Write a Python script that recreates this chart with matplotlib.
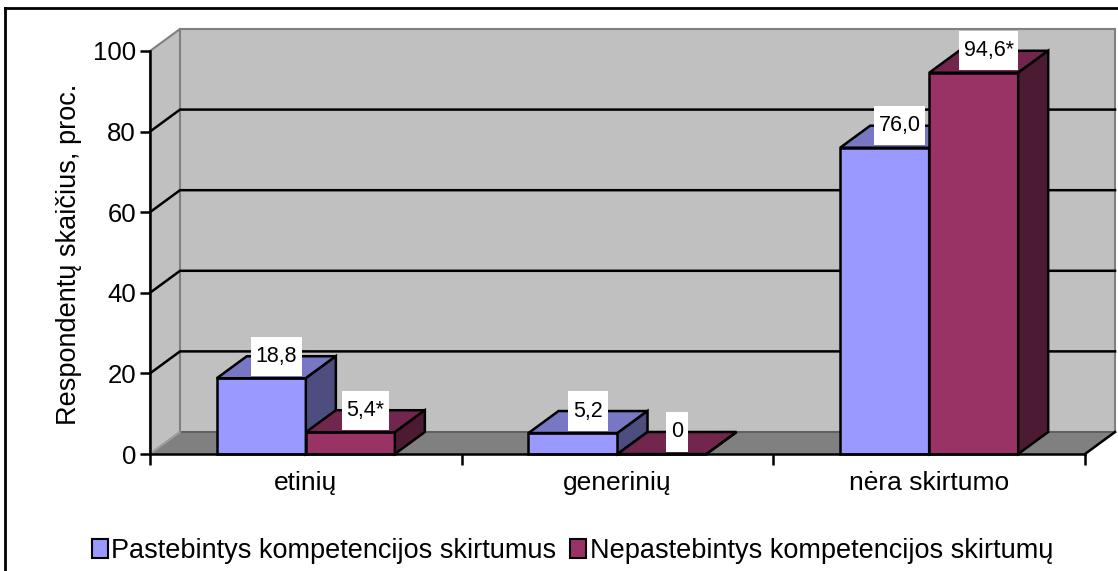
import matplotlib
matplotlib.use("Agg")
import matplotlib.pyplot as plt
from matplotlib.patches import Polygon, Patch
from matplotlib.lines import Line2D
from matplotlib.path import Path

plt.rcParams['font.family'] = ['Liberation Sans', 'DejaVu Sans']

categories = ["etinių", "generinių", "nėra skirtumo"]
series_names = ["Pastebintys kompetencijos skirtumus",
                "Nepastebintys kompetencijos skirtumų"]
noticed = [18.8, 5.2, 76.0]
not_noticed = [5.4, 0.0, 94.6]
noticed_labels = ["18,8", "5,2", "76,0"]
not_noticed_labels = ["5,4*", "0", "94,6*"]
yticks = [0, 20, 40, 60, 80, 100]

# face colours: front, top, side
blue_faces = ("#9999FF", "#7777C4", "#4D4D80")
red_faces = ("#993366", "#73264D", "#4D1A33")

fig = plt.figure(figsize=(11.18, 5.71), dpi=100)
ax = fig.add_axes([150 / 1118, 117 / 571, 935 / 1118, 403 / 571])
ax.set_xlim(0, 3)
ax.set_ylim(0, 100)
ax.patch.set_visible(False)

# oblique depth offset of the 3-D box, in data units
DX = 0.0963
DY = 5.46
n = len(categories)


def poly(pts, fc, ec, lw, z):
    p = Polygon(pts, closed=True, facecolor=fc, edgecolor=ec, linewidth=lw,
                zorder=z, clip_on=False, joinstyle='miter')
    ax.add_patch(p)


ymax = yticks[-1]
# side wall, back wall, floor
poly([(0, 0), (0, ymax), (DX, ymax + DY), (DX, DY)], "#C0C0C0", "#808080", 1.5, 1)
poly([(DX, DY), (DX, ymax + DY), (n + DX, ymax + DY), (n + DX, DY)],
     "#C0C0C0", "#808080", 1.5, 1)
poly([(0, 0), (n, 0), (n + DX, DY), (DX, DY)], "#808080", "none", 0, 1.5)
ax.plot([DX, n + DX], [DY, DY], color="#5A5A5A", lw=1.2, zorder=1.6, clip_on=False)
ax.plot([0, DX], [0, DY], color="#A0A0A0", lw=1.2, zorder=1.6, clip_on=False)
ax.plot([n, n + DX], [0, DY], color="black", lw=1.8, zorder=1.6, clip_on=False)

# gridlines running along side wall and back wall
for v in yticks[1:-1]:
    ax.plot([0, DX, n + DX], [v, v + DY, v + DY], color="black", lw=1.8,
            zorder=2, clip_on=False)

w = 0.2856


def bar3d(x0, v, faces, z):
    x1 = x0 + w
    front, top, side = faces
    poly([(x0, 0), (x1, 0), (x1, v), (x0, v)], front, "black", 1.8, z)
    poly([(x0, v), (x1, v), (x1 + DX, v + DY), (x0 + DX, v + DY)], top, "black", 1.8, z)
    poly([(x1, 0), (x1 + DX, DY), (x1 + DX, v + DY), (x1, v)], side, "black", 1.8, z)


def label_box(x0, y0, width, height, mutation_size):
    # rectangle with more vertical than horizontal padding
    px = 0.22 * mutation_size
    py = 0.42 * mutation_size
    xa, xb = x0 - px, x0 + width + px
    ya, yb = y0 - py, y0 + height + py
    return Path([(xa, ya), (xb, ya), (xb, yb), (xa, yb), (xa, ya)],
                [Path.MOVETO, Path.LINETO, Path.LINETO, Path.LINETO, Path.CLOSEPOLY])


def value_label(x0, v, text):
    ax.text(x0 + w / 2 + DX / 2, v + DY, text, ha="center", va="center",
            fontsize=15.5, color="black", zorder=20, clip_on=False,
            bbox=dict(boxstyle=label_box, facecolor="white", edgecolor="none"))


for i in range(n):
    c = i + 0.5
    bar3d(c - w, noticed[i], blue_faces, 3 + 2 * i)
    bar3d(c, not_noticed[i], red_faces, 4 + 2 * i)

for i in range(n):
    c = i + 0.5
    value_label(c - w, noticed[i], noticed_labels[i])
    value_label(c, not_noticed[i], not_noticed_labels[i])

# axes styling
for s in ("top", "right"):
    ax.spines[s].set_visible(False)
for s in ("left", "bottom"):
    ax.spines[s].set_linewidth(1.8)
    ax.spines[s].set_zorder(15)
ax.set_yticks(yticks)
ax.set_yticklabels([str(t) for t in yticks], fontsize=18.5)
ax.tick_params(axis="y", direction="out", length=7, width=1.8, pad=3)
ax.set_xticks(range(n + 1))
ax.set_xticklabels([])
ax.tick_params(axis="x", which="major", direction="out", length=8, width=1.8)
ax.set_xticks([i + 0.5 for i in range(n)], minor=True)
ax.set_xticklabels(categories, minor=True, fontsize=19)
ax.tick_params(axis="x", which="minor", length=0, pad=12)

fig.text(69 / 1118, 1 - 254 / 571, "Respondentų skaičius, proc.", rotation=90,
         ha="center", va="center", fontsize=19.5)

handles = [Patch(facecolor=blue_faces[0], edgecolor="black", linewidth=1.5),
           Patch(facecolor=red_faces[0], edgecolor="black", linewidth=1.5)]
fig.legend(handles, series_names, loc="center", bbox_to_anchor=(0.512, 1 - 551 / 571),
           ncol=2, frameon=False, fontsize=19.5, handlelength=0.6, handleheight=0.75,
           handletextpad=0.12, columnspacing=0.5, borderaxespad=0)

# chart area border (continues past the right and bottom edges)
fig.add_artist(Line2D([5 / 1118, 5 / 1118], [0, 1 - 8 / 571], transform=fig.transFigure,
                      color="black", lw=2))
fig.add_artist(Line2D([5 / 1118, 1.0], [1 - 8 / 571, 1 - 8 / 571], transform=fig.transFigure,
                      color="black", lw=2))

fig.savefig("out.png", dpi=100)
